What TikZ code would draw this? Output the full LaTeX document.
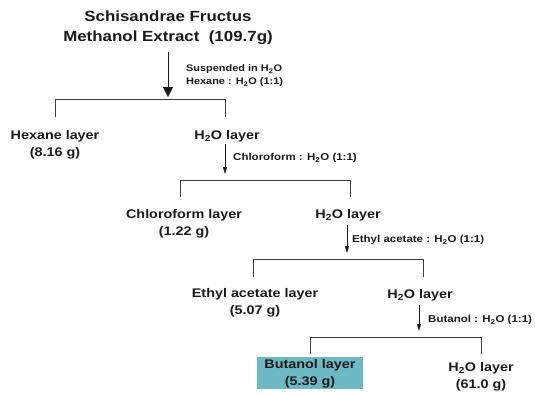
\documentclass[tikz,border=0pt]{standalone}
\usepackage{fontspec}
\setmainfont{Liberation Sans}[FakeStretch=1.15]
\usetikzlibrary{arrows.meta}
\definecolor{ink}{HTML}{1A1A1A}
\definecolor{teal}{HTML}{6CB8C4}
\tikzset{
  titletext/.style={font=\bfseries\fontsize{14.7}{20}\selectfont, align=center, text=ink, inner sep=0pt},
  layertext/.style={font=\bfseries\fontsize{12.5}{17}\selectfont, align=center, text=ink, inner sep=0pt},
  solventtext/.style={font=\bfseries\fontsize{10}{13}\selectfont, align=left, text=ink, inner sep=0pt, anchor=west},
  bigarrow/.style={draw=ink, line width=0.9pt, -{Triangle[width=10pt,length=10pt]}},
  smallarrow/.style={draw=ink, line width=0.8pt, -{Triangle[width=4pt,length=7pt]}},
  bracketline/.style={draw=ink!85, line width=0.8pt},
  hilite/.style={fill=teal, minimum width=106pt, minimum height=32pt, inner sep=0pt}
}
\newcommand{\HtwoO}{H\textsubscript{2}O}
\begin{document}
\begin{tikzpicture}[x=1pt,y=-1pt]
\useasboundingbox (0,0) rectangle (535,394);
% title
\node[titletext] (title) at (168,28) {Schisandrae Fructus\\Methanol Extract\ \ (109.7g)};
\coordinate (a1s) at (168,52);
\coordinate (a1e) at (168,97);
\draw[bigarrow] (a1s) -- (a1e);
\node[solventtext, font=\bfseries\fontsize{9.5}{13}\selectfont] (s1) at (186,76) {Suspended in \HtwoO\\Hexane : \HtwoO\ (1:1)};
% bracket 1
\coordinate (b1l) at (55,99); \coordinate (b1r) at (225,99);
\coordinate (b1lb) at (55,117); \coordinate (b1rb) at (225,117);
\draw[bracketline] (b1lb) -- (b1l) -- (b1r) -- (b1rb);
\node[layertext] (hex) at (55,144.5) {Hexane layer\\(8.16 g)};
\node[layertext] (w1) at (227,136) {\HtwoO\ layer};
% arrow 2
\coordinate (a2s) at (225,144); \coordinate (a2e) at (225,174);
\draw[smallarrow] (a2s) -- (a2e);
\node[solventtext] (s2) at (233,158) {Chloroform : \HtwoO\ (1:1)};
% bracket 2
\coordinate (b2l) at (180,180); \coordinate (b2r) at (350,180);
\coordinate (b2lb) at (180,197); \coordinate (b2rb) at (350,197);
\draw[bracketline] (b2lb) -- (b2l) -- (b2r) -- (b2rb);
\node[layertext] (chl) at (184,224) {Chloroform layer\\(1.22 g)};
\node[layertext] (w2) at (348,215) {\HtwoO\ layer};
% arrow 3
\coordinate (a3s) at (347,225); \coordinate (a3e) at (347,253);
\draw[smallarrow] (a3s) -- (a3e);
\node[solventtext] (s3) at (352,240) {Ethyl acetate : \HtwoO\ (1:1)};
% bracket 3
\coordinate (b3l) at (253,259); \coordinate (b3r) at (423,259);
\coordinate (b3lb) at (253,277); \coordinate (b3rb) at (423,277);
\draw[bracketline] (b3lb) -- (b3l) -- (b3r) -- (b3rb);
\node[layertext] (eth) at (255,303) {Ethyl acetate layer\\(5.07 g)};
\node[layertext] (w3) at (420,295) {\HtwoO\ layer};
% arrow 4
\coordinate (a4s) at (419,305); \coordinate (a4e) at (419,331);
\draw[smallarrow] (a4s) -- (a4e);
\node[solventtext] (s4) at (428,320) {Butanol : \HtwoO\ (1:1)};
% bracket 4
\coordinate (b4l) at (310,337); \coordinate (b4r) at (481,337);
\coordinate (b4lb) at (310,354); \coordinate (b4rb) at (481,354);
\draw[bracketline] (b4lb) -- (b4l) -- (b4r) -- (b4rb);
\node[hilite] (butbox) at (310,373) {};
\node[layertext] (but) at (310,374) {Butanol layer\\(5.39 g)};
\node[layertext] (w4) at (481,377) {\HtwoO\ layer\\(61.0 g)};
\end{tikzpicture}
\end{document}
